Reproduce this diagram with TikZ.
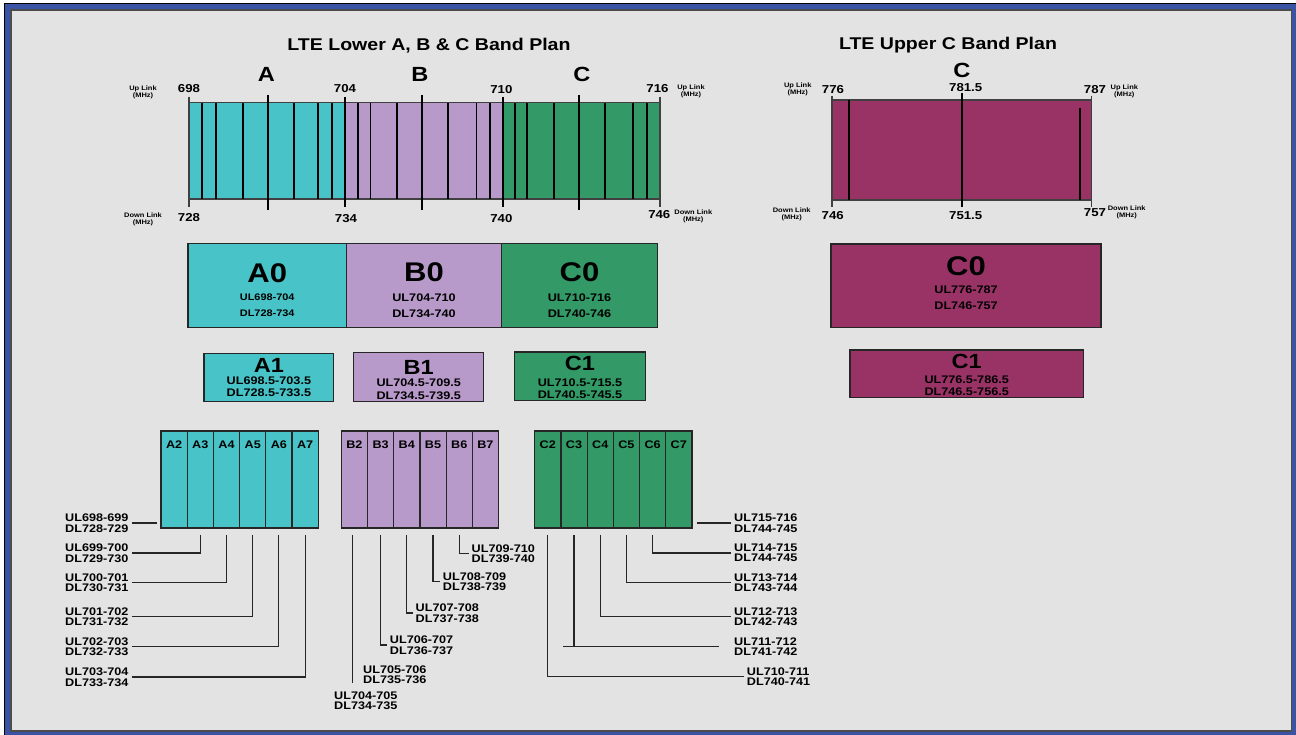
\documentclass[tikz,border=0pt]{standalone}
\usepackage{fontspec}
\setmainfont{Liberation Sans}[FakeStretch=1.15]
\usetikzlibrary{positioning}
\definecolor{bandA}{RGB}{72,195,199}
\definecolor{bandB}{RGB}{184,154,202}
\definecolor{bandC}{RGB}{50,153,103}
\definecolor{bandU}{RGB}{153,51,102}
\definecolor{frameblue}{RGB}{58,83,164}
\definecolor{panel}{RGB}{227,227,227}
\begin{document}
\begin{tikzpicture}[x=1pt,y=-1pt,
 hdr/.style={font=\bfseries\fontsize{17}{20}\selectfont,inner sep=0pt},
 band/.style={font=\bfseries\fontsize{20.5}{24}\selectfont,inner sep=0pt},
 freq/.style={font=\bfseries\fontsize{11.5}{13}\selectfont,inner sep=0pt},
 link/.style={font=\bfseries\fontsize{6.5}{7.2}\selectfont,align=center,inner sep=0pt},
 big/.style={font=\bfseries\fontsize{27}{30}\selectfont,inner sep=0pt},
 mid/.style={font=\bfseries\fontsize{20.5}{24}\selectfont,inner sep=0pt},
 rng/.style={font=\bfseries\fontsize{11}{15.6}\selectfont,align=center,inner sep=0pt},
 sub/.style={font=\bfseries\fontsize{11}{12}\selectfont,align=center,inner sep=0pt},
 blk/.style={draw=black!85,line width=1.2pt,inner sep=0pt,outer sep=0pt},
 cell/.style={blk,minimum width=26.2,minimum height=97},
 chan/.style={font=\bfseries\fontsize{11}{12}\selectfont,inner sep=0pt},
 lbl/.style={font=\bfseries\fontsize{11}{10.5}\selectfont,inner xsep=3pt,inner ysep=0pt},
 sep/.style={line width=1.8pt,black},
 tick/.style={line width=1.2pt,black!75},
 wire/.style={line width=1.1pt,black!85}]
\useasboundingbox (0,0) rectangle (1296,735);
% frame
\fill[white] (0,0) rectangle (1296,735);
\draw[fill=frameblue,line width=1pt] (4,3.5) rectangle (1298,737);
\draw[fill=panel,draw=black!70,line width=1.2pt] (11,10) rectangle (1291.5,731);
% lower band plan
\fill[bandA] (189,102.7) rectangle (345,199);
\fill[bandB] (345,102.7) rectangle (503,199);
\fill[bandC] (503,102.7) rectangle (660,199);
\draw[tick] (189,102.7) -- (660,102.7);
\draw[tick] (189,199) -- (660,199);
\draw[tick] (189,96.7) -- (189,206.7);
\draw[sep] (345,96.7) -- (345,206.7);
\draw[sep] (503,96.7) -- (503,206.7);
\draw[tick] (660,96.7) -- (660,206.7);
\draw[sep] (267.9,95) -- (267.9,210);
\draw[sep] (422.1,95) -- (422.1,210);
\draw[sep] (578.9,95) -- (578.9,210);
\draw[sep] (201.8,102.7) -- (201.8,199);
\draw[sep] (216.1,102.7) -- (216.1,199);
\draw[sep] (242.9,102.7) -- (242.9,199);
\draw[sep] (293.6,102.7) -- (293.6,199);
\draw[sep] (318.2,102.7) -- (318.2,199);
\draw[sep] (331.8,102.7) -- (331.8,199);
\draw[sep] (358.2,102.7) -- (358.2,199);
\draw[sep] (370.4,102.7) -- (370.4,199);
\draw[sep] (396.8,102.7) -- (396.8,199);
\draw[sep] (447.9,102.7) -- (447.9,199);
\draw[sep] (476.4,102.7) -- (476.4,199);
\draw[sep] (489.6,102.7) -- (489.6,199);
\draw[sep] (514.6,102.7) -- (514.6,199);
\draw[sep] (527.1,102.7) -- (527.1,199);
\draw[sep] (553.6,102.7) -- (553.6,199);
\draw[sep] (604.6,102.7) -- (604.6,199);
\draw[sep] (633.2,102.7) -- (633.2,199);
\draw[sep] (646.8,102.7) -- (646.8,199);
\node[hdr] (lowT) at (429,45.5) {LTE Lower A, B \& C Band Plan};
\node[band] (bandA) at (266.4,74) {A};
\node[band] (bandB) at (420,74) {B};
\node[band] (bandC) at (581.8,74) {C};
\node[freq] (f698) at (189,88.3) {698};
\node[freq] (f704) at (345,88.3) {704};
\node[freq] (f710) at (501.4,89.3) {710};
\node[freq] (f716) at (657.5,89) {716};
\node[freq] (f728) at (189,217.3) {728};
\node[freq] (f734) at (346,219) {734};
\node[freq] (f740) at (501.4,218.3) {740};
\node[freq] (f746) at (659.3,214.3) {746};
\node[link] (upL) at (143,92) {Up Link\\(MHz)};
\node[link] (upR) at (691,91) {Up Link\\(MHz)};
\node[link] (dnL) at (143,219) {Down Link\\(MHz)};
\node[link] (dnR) at (693.3,216.7) {Down Link\\(MHz)};
% upper band plan
\fill[bandU] (832,100) rectangle (1091.7,200);
\draw[tick] (832,100) -- (1091.7,100);
\draw[tick] (832,200) -- (1091.7,200);
\draw[tick] (832,96) -- (832,206.7);
\draw[tick] (1091.7,96) -- (1091.7,206.7);
\draw[sep] (848.7,100) -- (848.7,200);
\draw[sep] (962,92.7) -- (962,206.7);
\draw[sep] (1080.3,107.7) -- (1080.3,200);
\node[hdr] (upT) at (948,45) {LTE Upper C Band Plan};
\node[band] (bandU) at (962,70) {C};
\node[freq] (f776) at (833,90) {776};
\node[freq] (f781) at (965.7,87.7) {781.5};
\node[freq] (f787) at (1095,90) {787};
\node[freq] (f746u) at (832.7,215.7) {746};
\node[freq] (f751) at (965.7,215.7) {751.5};
\node[freq] (f757) at (1095,212.3) {757};
\node[link] (upLu) at (797.7,89.7) {Up Link\\(MHz)};
\node[link] (upRu) at (1124.3,91.7) {Up Link\\(MHz)};
\node[link] (dnLu) at (791.7,214.7) {Down Link\\(MHz)};
\node[link] (dnRu) at (1126.7,212.7) {Down Link\\(MHz)};
% 0 blocks
\node[blk,fill=bandA,minimum width=158.3,minimum height=84] (A0) at (267.2,285.3) {};
\node[blk,fill=bandB,minimum width=155.4,minimum height=84] (B0) at (424,285.3) {};
\node[blk,fill=bandC,minimum width=155.6,minimum height=84] (C0) at (579.5,285.3) {};
\node[big] (A0n) at (267.2,273.3) {A0};
\node[rng,font=\bfseries\fontsize{9.5}{15.6}\selectfont] (A0r) at (267.2,305.5) {UL698-704\\DL728-734};
\node[big] (B0n) at (424,272.7) {B0};
\node[rng] (B0r) at (424,305.8) {UL704-710\\DL734-740};
\node[big] (C0n) at (579.5,272.7) {C0};
\node[rng] (C0r) at (579.5,305.8) {UL710-716\\DL740-746};
\node[blk,fill=bandU,minimum width=270,minimum height=83.7] (U0) at (966,285.8) {};
\node[big] (U0n) at (966,266.7) {C0};
\node[rng,font=\bfseries\fontsize{11}{16}\selectfont] (U0r) at (966,298) {UL776-787\\DL746-757};
% 1 blocks
\node[blk,fill=bandA,minimum width=129.7,minimum height=48.4] (A1) at (268.9,377.5) {};
\node[blk,fill=bandB,minimum width=130,minimum height=49] (B1) at (418.7,377.2) {};
\node[blk,fill=bandC,minimum width=130.6,minimum height=48.3] (C1) at (580,376.2) {};
\node[mid] (A1n) at (268.9,365) {A1};
\node[sub] (A1r) at (268.9,386.8) {UL698.5-703.5\\DL728.5-733.5};
\node[mid] (B1n) at (418.7,367.3) {B1};
\node[sub,font=\bfseries\fontsize{11}{13.3}\selectfont] (B1r) at (418.7,389.3) {UL704.5-709.5\\DL734.5-739.5};
\node[mid] (C1n) at (580,363.3) {C1};
\node[sub] (C1r) at (580,388.3) {UL710.5-715.5\\DL740.5-745.5};
\node[blk,fill=bandU,minimum width=233.3,minimum height=47.3] (U1) at (966.7,373.7) {};
\node[mid] (U1n) at (966.7,361) {C1};
\node[sub,font=\bfseries\fontsize{11}{12.4}\selectfont] (U1r) at (966.7,385.5) {UL776.5-786.5\\DL746.5-756.5};
% A cells
\node[cell,fill=bandA] (a2) at (174.1,479.5) {};
\node[cell,fill=bandA,right=0pt of a2] (a3) {};
\node[cell,fill=bandA,right=0pt of a3] (a4) {};
\node[cell,fill=bandA,right=0pt of a4] (a5) {};
\node[cell,fill=bandA,right=0pt of a5] (a6) {};
\node[cell,fill=bandA,right=0pt of a6] (a7) {};
\node[chan,below=10pt of a2.north] (a2t) {A2};
\node[chan,below=10pt of a3.north] (a3t) {A3};
\node[chan,below=10pt of a4.north] (a4t) {A4};
\node[chan,below=10pt of a5.north] (a5t) {A5};
\node[chan,below=10pt of a6.north] (a6t) {A6};
\node[chan,below=10pt of a7.north] (a7t) {A7};
% B cells
\node[cell,fill=bandB] (b2) at (354.4,479.5) {};
\node[cell,fill=bandB,right=0pt of b2] (b3) {};
\node[cell,fill=bandB,right=0pt of b3] (b4) {};
\node[cell,fill=bandB,right=0pt of b4] (b5) {};
\node[cell,fill=bandB,right=0pt of b5] (b6) {};
\node[cell,fill=bandB,right=0pt of b6] (b7) {};
\node[chan,below=10pt of b2.north] (b2t) {B2};
\node[chan,below=10pt of b3.north] (b3t) {B3};
\node[chan,below=10pt of b4.north] (b4t) {B4};
\node[chan,below=10pt of b5.north] (b5t) {B5};
\node[chan,below=10pt of b6.north] (b6t) {B6};
\node[chan,below=10pt of b7.north] (b7t) {B7};
% C cells
\node[cell,fill=bandC] (c2) at (547.8,479.5) {};
\node[cell,fill=bandC,right=0pt of c2] (c3) {};
\node[cell,fill=bandC,right=0pt of c3] (c4) {};
\node[cell,fill=bandC,right=0pt of c4] (c5) {};
\node[cell,fill=bandC,right=0pt of c5] (c6) {};
\node[cell,fill=bandC,right=0pt of c6] (c7) {};
\node[chan,below=10pt of c2.north] (c2t) {C2};
\node[chan,below=10pt of c3.north] (c3t) {C3};
\node[chan,below=10pt of c4.north] (c4t) {C4};
\node[chan,below=10pt of c5.north] (c5t) {C5};
\node[chan,below=10pt of c6.north] (c6t) {C6};
\node[chan,below=10pt of c7.north] (c7t) {C7};
% A labels
\node[lbl,anchor=east,align=right] (la2) at (131.7,523) {UL698-699\\DL728-729};
\node[lbl,anchor=east,align=right] (la3) at (131.7,553) {UL699-700\\DL729-730};
\node[lbl,anchor=east,align=right] (la4) at (131.7,582.5) {UL700-701\\DL730-731};
\node[lbl,anchor=east,align=right] (la5) at (131.7,616.7) {UL701-702\\DL731-732};
\node[lbl,anchor=east,align=right] (la6) at (131.7,646.5) {UL702-703\\DL732-733};
\node[lbl,anchor=east,align=right] (la7) at (131.7,677) {UL703-704\\DL733-734};
\draw[wire] (la2.east) -- ([xshift=-4pt]a2.west |- la2.east);
\draw[wire] ([yshift=-7pt]a3.south) |- (la3.east);
\draw[wire] ([yshift=-7pt]a4.south) |- (la4.east);
\draw[wire] ([yshift=-7pt]a5.south) |- (la5.east);
\draw[wire] ([yshift=-7pt]a6.south) |- (la6.east);
\draw[wire] ([yshift=-7pt]a7.south) |- (la7.east);
% B labels
\node[lbl,anchor=west,align=left] (lb2) at (331,700.5) {UL704-705\\DL734-735};
\node[lbl,anchor=west,align=left] (lb3) at (360,674.5) {UL705-706\\DL735-736};
\node[lbl,anchor=west,align=left] (lb4) at (386.7,645) {UL706-707\\DL736-737};
\node[lbl,anchor=west,align=left] (lb5) at (412.5,613) {UL707-708\\DL737-738};
\node[lbl,anchor=west,align=left] (lb6) at (439.7,581.5) {UL708-709\\DL738-739};
\node[lbl,anchor=west,align=left] (lb7) at (468.5,553.5) {UL709-710\\DL739-740};
\coordinate (b2end) at (352.3,683.3);
\draw[wire] ([yshift=-7pt]b2.south -| b2end) -- (b2end);
\draw[wire] ([yshift=-7pt]b3.south) |- (lb4.west);
\draw[wire] ([yshift=-7pt]b4.south) |- (lb5.west);
\draw[wire] ([yshift=-7pt]b5.south) |- (lb6.west);
\draw[wire] ([yshift=-7pt]b6.south) |- (lb7.west);
% C labels
\node[lbl,anchor=west,align=left] (lc7) at (731,523) {UL715-716\\DL744-745};
\node[lbl,anchor=west,align=left] (lc6) at (731,553) {UL714-715\\DL744-745};
\node[lbl,anchor=west,align=left] (lc5) at (731,582.5) {UL713-714\\DL743-744};
\node[lbl,anchor=west,align=left] (lc4) at (731,616.7) {UL712-713\\DL742-743};
\node[lbl,anchor=west,align=left] (lc3) at (731,646.5) {UL711-712\\DL741-742};
\node[lbl,anchor=west,align=left] (lc2) at (743.7,676.7) {UL710-711\\DL740-741};
\draw[wire] ([xshift=5pt]c7.east |- lc7.west) -- (lc7.west);
\draw[wire] ([yshift=-7pt]c6.south) |- (lc6.west);
\draw[wire] ([yshift=-7pt]c5.south) |- (lc5.west);
\draw[wire] ([yshift=-7pt]c4.south) |- (lc4.west);
\draw[wire] ([yshift=-7pt]c3.south) -- (c3.south |- lc3.west);
\draw[wire] ([xshift=-11pt]c3.south |- lc3.west) -- ([xshift=-12pt]lc3.west);
\draw[wire] ([yshift=-7pt]c2.south) |- (lc2.west);
\end{tikzpicture}
\end{document}
